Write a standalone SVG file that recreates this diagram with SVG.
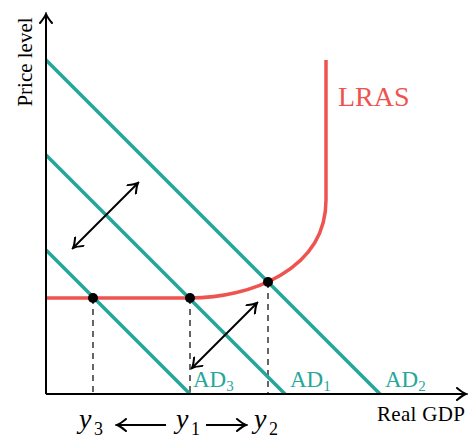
<svg xmlns="http://www.w3.org/2000/svg" width="470" height="439" viewBox="0 0 470 439">
<defs>
<marker id="ah" viewBox="-11 -7 13 14" refX="0" refY="0" markerWidth="13" markerHeight="14" markerUnits="userSpaceOnUse" orient="auto-start-reverse">
<path d="M-9,-6 Q-3,-1 0,0 Q-3,1 -9,6" fill="none" stroke="#000" stroke-width="2" stroke-linecap="round"/>
</marker>
</defs>
<style>
.ax{stroke:#000;stroke-width:2;fill:none}
.ad{stroke:#26a69a;stroke-width:3.5;fill:none}
.lras{stroke:#ef5350;stroke-width:3.5;fill:none}
.dash{stroke:#000;stroke-width:1.2;stroke-dasharray:6,5;fill:none}
.arr{stroke:#000;stroke-width:2;fill:none}
.t{font-family:"Liberation Serif",serif;fill:#000}
.adl{font-family:"Liberation Serif",serif;fill:#26a69a;font-size:23px}
.y{font-family:"Liberation Serif",serif;font-style:italic;font-size:28px;fill:#000}
.s{font-family:"Liberation Serif",serif;font-size:18px;fill:#000}
</style>
<g id="connectors">
<path class="dash" d="M93,298 V394 M190,298 V394 M268,282 V394"/>
<path class="ad" d="M46,60 L380,394"/>
<path class="ad" d="M46,155 L285,394"/>
<path class="ad" d="M46,250 L190,394"/>
<path class="lras" d="M46,298 H190 C250,298 326,270 326,200 V60"/>
<path class="arr" d="M73,248 L138,183" marker-start="url(#ah)" marker-end="url(#ah)"/>
<path class="arr" d="M192,368 L257,303" marker-start="url(#ah)" marker-end="url(#ah)"/>
</g>
<g id="axes">
<path class="ax" d="M46,394 V14" marker-end="url(#ah)"/>
<path class="ax" d="M46,394 H466" marker-end="url(#ah)"/>
<text class="t" font-size="21" transform="translate(32,62) rotate(-90)" text-anchor="middle">Price level</text>
<text class="t" font-size="21" x="377" y="421" textLength="88">Real GDP</text>
</g>
<g id="points">
<circle cx="93" cy="298" r="5" fill="#000"/>
<circle cx="190" cy="298" r="5" fill="#000"/>
<circle cx="268" cy="282" r="5" fill="#000"/>
</g>
<g id="lras-label"><text x="338" y="106" font-family="Liberation Serif, serif" font-size="28" fill="#ef5350">LRAS</text></g>
<g id="ad3"><text class="adl" x="193" y="387">AD<tspan font-size="15" dy="4">3</tspan></text></g>
<g id="ad1"><text class="adl" x="290" y="387">AD<tspan font-size="15" dy="4">1</tspan></text></g>
<g id="ad2"><text class="adl" x="385" y="387">AD<tspan font-size="15" dy="4">2</tspan></text></g>
<g id="ylabels">
<text class="y" x="79" y="428">y</text><text class="s" x="94" y="435">3</text>
<text class="y" x="176" y="428">y</text><text class="s" x="191" y="435">1</text>
<text class="y" x="254" y="428">y</text><text class="s" x="269" y="435">2</text>
<path class="arr" d="M166,425 H117" marker-end="url(#ah)"/>
<path class="arr" d="M206,425 H246" marker-end="url(#ah)"/>
</g>
</svg>
